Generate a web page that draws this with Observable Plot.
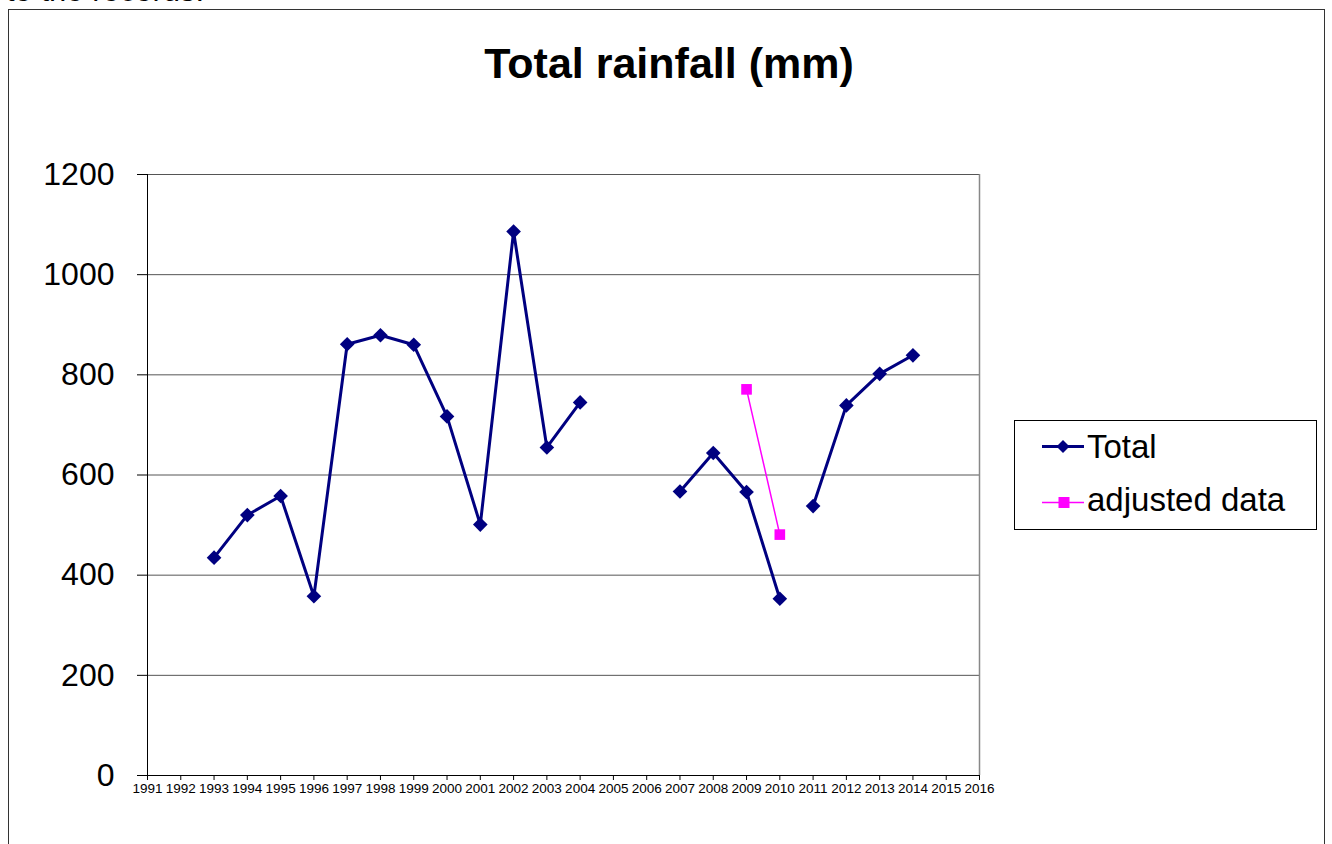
<!DOCTYPE html>
<html>
<head>
<meta charset="utf-8">
<script src="https://cdn.jsdelivr.net/npm/d3@7"></script>
<script src="https://cdn.jsdelivr.net/npm/@observablehq/plot@0.6"></script>
<style>
  html, body { margin: 0; padding: 0; background: #fff; overflow: hidden; }
  #wrap { position: relative; width: 1332px; height: 844px; overflow: hidden; font-family: Arial, "Liberation Sans", sans-serif; }
  #chart { position: absolute; left: 0; top: 0; }
  #cut { position: absolute; left: 6px; top: -27px; font-size: 31px; line-height: 36px; color: #000; white-space: nowrap; }
  #frame { position: absolute; left: 8px; top: 9px; width: 1317px; height: 900px; border: 1px solid #333; box-sizing: border-box; pointer-events: none; }
  #title { position: absolute; left: 0; width: 1332px; top: 38px; text-align: center; font-size: 43px; font-weight: bold; color: #000; line-height: 50px; padding-left: 6px; box-sizing: border-box; }
  #legend { position: absolute; left: 1014px; top: 420px; }
</style>
</head>
<body>
<div id="wrap">
  <div id="cut">to the records.</div>
  <div id="frame"></div>
  <div id="chart"></div>
  <div id="title">Total rainfall (mm)</div>
  <svg id="legend" width="304" height="111"></svg>
</div>
<script>
// ---- data ----
const tickYears = [1991,1992,1993,1994,1995,1996,1997,1998,1999,2000,2001,2002,2003,2004,2005,2006,2007,2008,2009,2010,2011,2012,2013,2014,2015,2016];
const yTicks = [0,200,400,600,800,1000,1200];
const totalYears   = [1993,1994,1995,1996,1997,1998,1999,2000,2001,2002,2003,2004, 2007,2008,2009,2010, 2011,2012,2013,2014];
const totalValues  = [435, 520, 558, 358, 861, 879, 860, 717, 501, 1086,655, 745,  567, 644, 566, 353,  538, 739, 802, 839];
const totalSegment = [1,1,1,1,1,1,1,1,1,1,1,1, 2,2,2,2, 3,3,3,3];
const adjustedYears  = [2009, 2010];
const adjustedValues = [771, 481];
const seriesNames = ["Total", "adjusted data"];

const total = totalYears.map((y, i) => ({year: y, value: totalValues[i], seg: totalSegment[i]}));
const adjusted = adjustedYears.map((y, i) => ({year: y, value: adjustedValues[i]}));

const navy = "#000080", magenta = "#FF00FF";

const chart = Plot.plot({
  width: 1332,
  height: 844,
  marginLeft: 147,
  marginRight: 353,
  marginTop: 174,
  marginBottom: 69,
  style: {fontFamily: "Arial, 'Liberation Sans', sans-serif", color: "#000", background: "transparent"},
  x: {domain: [1991, 2016], label: null},
  y: {domain: [0, 1200], label: null},
  marks: [
    Plot.ruleY(yTicks.filter(v => v > 0), {stroke: "#555", strokeWidth: 1}),
    Plot.ruleX([2016], {stroke: "#888", strokeWidth: 1.5}),
    Plot.ruleX([1991], {stroke: "#000", strokeWidth: 1}),
    Plot.ruleY([0], {stroke: "#000", strokeWidth: 1}),
    Plot.axisY({ticks: yTicks, tickFormat: d => String(d), tickSize: 10, tickPadding: 23, fontSize: 32, label: null, stroke: "#000"}),
    Plot.axisX({ticks: tickYears, tickFormat: d => String(d), tickSize: 5, tickPadding: 3, fontSize: 13.5, label: null}),
    Plot.line(total, {x: "year", y: "value", z: "seg", stroke: navy, strokeWidth: 3}),
    Plot.dot(total, {x: "year", y: "value", symbol: "diamond2", r: 6.6, fill: navy, stroke: null}),
    Plot.line(adjusted, {x: "year", y: "value", stroke: magenta, strokeWidth: 1.5}),
    Plot.dot(adjusted, {x: "year", y: "value", symbol: "square", r: 6, fill: magenta, stroke: null})
  ]
});
document.getElementById("chart").appendChild(chart);

// ---- legend ----
const lg = d3.select("#legend");
lg.append("rect").attr("x", 0.5).attr("y", 0.5).attr("width", 302).attr("height", 109)
  .attr("fill", "#fff").attr("stroke", "#000").attr("stroke-width", 1);
const rows = [
  {name: seriesNames[0], color: navy, sw: 3, sym: "diamond", cy: 26.5, base: 38},
  {name: seriesNames[1], color: magenta, sw: 1.5, sym: "square", cy: 82.5, base: 91}
];
rows.forEach(r => {
  lg.append("line").attr("x1", 28).attr("x2", 70).attr("y1", r.cy).attr("y2", r.cy)
    .attr("stroke", r.color).attr("stroke-width", r.sw);
  if (r.sym === "diamond") {
    lg.append("path").attr("d", `M49,${r.cy-6.5}L55.5,${r.cy}L49,${r.cy+6.5}L42.5,${r.cy}Z`).attr("fill", r.color);
  } else {
    lg.append("rect").attr("x", 44.5).attr("y", r.cy - 5.5).attr("width", 11).attr("height", 11).attr("fill", r.color);
  }
  lg.append("text").attr("x", 73).attr("y", r.base).attr("font-size", 33)
    .attr("font-family", "Arial, 'Liberation Sans', sans-serif").attr("fill", "#000").text(r.name);
});
</script>
</body>
</html>
